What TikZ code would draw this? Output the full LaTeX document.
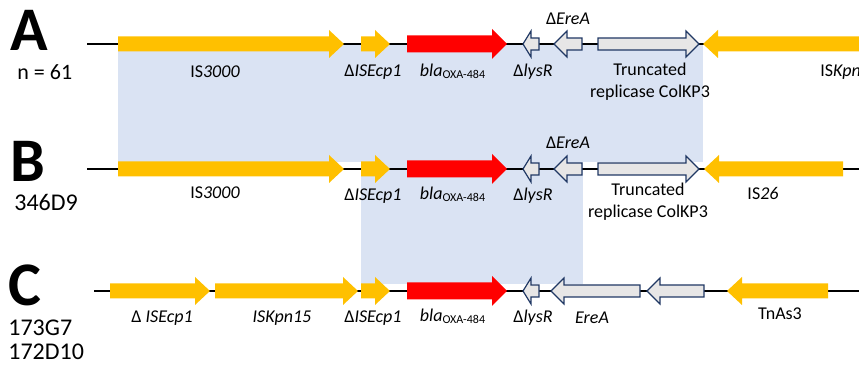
\documentclass[tikz,border=0pt]{standalone}
\usepackage{fontspec}
\setmainfont{Carlito}
\usetikzlibrary{positioning}

\definecolor{isyellow}{HTML}{FFC000}
\definecolor{blared}{HTML}{FF0000}
\definecolor{orfgray}{HTML}{E7E6E6}
\definecolor{orfline}{HTML}{203864}
\definecolor{homblue}{HTML}{DAE3F3}

\tikzset{
  isgene/.style  = {fill=isyellow, draw=none, /utils/exec={\def\gbody{7.5}\def\ghead{14}\def\glen{15}}},
  blagene/.style = {fill=blared, draw=none, /utils/exec={\def\gbody{8.5}\def\ghead{15}\def\glen{15}}},
  orfgene/.style = {fill=orfgray, draw=orfline, line width=0.6pt, /utils/exec={\def\gbody{6}\def\ghead{13}\def\glen{13}}},
  lysgene/.style = {orfgene, /utils/exec={\def\glen{8}}},
  backbone/.style = {line width=1pt},
  homology/.style = {fill=homblue},
  lbl/.style = {font=\fontsize{9}{11}\selectfont, align=center, inner sep=0pt},
  rowletter/.style = {font=\fontsize{31}{31}\selectfont\bfseries, anchor=west, inner sep=0pt},
  strain/.style = {font=\fontsize{12}{13.5}\selectfont, anchor=west, inner sep=0pt},
}

% gene arrow: style, tail x, tip x, y
\newcommand{\gene}[4]{%
  \path[#1] (#2,{#4-\gbody}) -- ({#3-\glen*sign(#3-#2)},{#4-\gbody})
    -- ({#3-\glen*sign(#3-#2)},{#4-\ghead}) -- (#3,#4)
    -- ({#3-\glen*sign(#3-#2)},{#4+\ghead}) -- ({#3-\glen*sign(#3-#2)},{#4+\gbody})
    -- (#2,{#4+\gbody}) -- cycle;}

\begin{document}
\begin{tikzpicture}[x=0.5pt, y=-0.5pt]
\useasboundingbox (0,0) rectangle (859,367);
\clip (0,0) rectangle (859,367);

% shared regions
\fill[homology] (118,44) rectangle (703,162);
\fill[homology] (361,150) rectangle (583,284);

% backbones
\coordinate (startA) at (87,44);
\coordinate (endA) at (870,44);
\coordinate (startB) at (87,169);
\coordinate (endB) at (870,169);
\coordinate (startC) at (94,291);
\coordinate (endC) at (870,291);
\draw[backbone] (startA) -- (endA);
\draw[backbone] (startB) -- (endB);
\draw[backbone] (startC) -- (endC);

% row A
\gene{isgene}{118}{344}{44}
\gene{isgene}{361}{390}{44}
\gene{blagene}{407}{507}{44}
\gene{lysgene}{539}{523}{44}
\gene{orfgene}{582}{554}{44}
\gene{orfgene}{598}{699}{44}
\gene{isgene}{900}{703}{44}

% row B
\gene{isgene}{118}{344}{169}
\gene{isgene}{361}{390}{169}
\gene{blagene}{407}{507}{169}
\gene{lysgene}{539}{523}{169}
\gene{orfgene}{582}{554}{169}
\gene{orfgene}{598}{699}{169}
\gene{isgene}{843}{704}{169}

% row C
\gene{isgene}{110}{210}{291}
\gene{isgene}{215}{358}{291}
\gene{isgene}{361}{390}{291}
\gene{blagene}{407}{507}{291}
\gene{lysgene}{539}{523}{291}
\gene{orfgene}{640}{551}{291}
\gene{orfgene}{704}{647}{291}
\gene{isgene}{828}{727}{291}

% row letters and strains
\node[rowletter] (letA) at (10,30) {A};
\node[rowletter] (letB) at (10,161) {B};
\node[rowletter] (letC) at (8,285) {C};
\node[strain, font=\fontsize{11}{13}\selectfont] (nA) at (17,72) {n = 61};
\node[strain] (strB) at (14,202) {346D9};
\node[strain] (strC1) at (8,328) {173G7};
\node[strain] (strC2) at (8,352) {172D10};

% labels A
\node[lbl] (isA) at (215,72) {IS\textit{3000}};
\node[lbl] (ecpA) at (373,72) {Δ\textit{ISEcp1}};
\node[lbl] (blaA) at (453,71) {\textit{bla}\textsubscript{OXA-484}};
\node[lbl] (lysA) at (533,72) {Δ\textit{lysR}};
\node[lbl] (ereA) at (568,19) {Δ\textit{EreA}};
\node[lbl] (repA) at (650,82) {Truncated\\replicase ColKP3};
\node[lbl, anchor=west] (kpnA) at (820,72) {IS\textit{Kpn}};

% labels B
\node[lbl] (isB) at (215,193) {IS\textit{3000}};
\node[lbl] (ecpB) at (373,196) {Δ\textit{ISEcp1}};
\node[lbl] (blaB) at (453,194) {\textit{bla}\textsubscript{OXA-484}};
\node[lbl] (lysB) at (533,196) {Δ\textit{lysR}};
\node[lbl] (ereB) at (568,143) {Δ\textit{EreA}};
\node[lbl] (repB) at (648,202) {Truncated\\replicase ColKP3};
\node[lbl] (is26B) at (763,193) {IS\textit{26}};

% labels C
\node[lbl] (ecpC1) at (162,318) {Δ \textit{ISEcp1}};
\node[lbl] (kpnC) at (282,318) {\textit{ISKpn15}};
\node[lbl] (ecpC2) at (373,318) {Δ\textit{ISEcp1}};
\node[lbl] (blaC) at (453,316) {\textit{bla}\textsubscript{OXA-484}};
\node[lbl] (lysC) at (533,318) {Δ\textit{lysR}};
\node[lbl] (ereC) at (592,318) {\textit{EreA}};
\node[lbl] (tnC) at (780,314) {TnAs3};
\end{tikzpicture}
\end{document}
